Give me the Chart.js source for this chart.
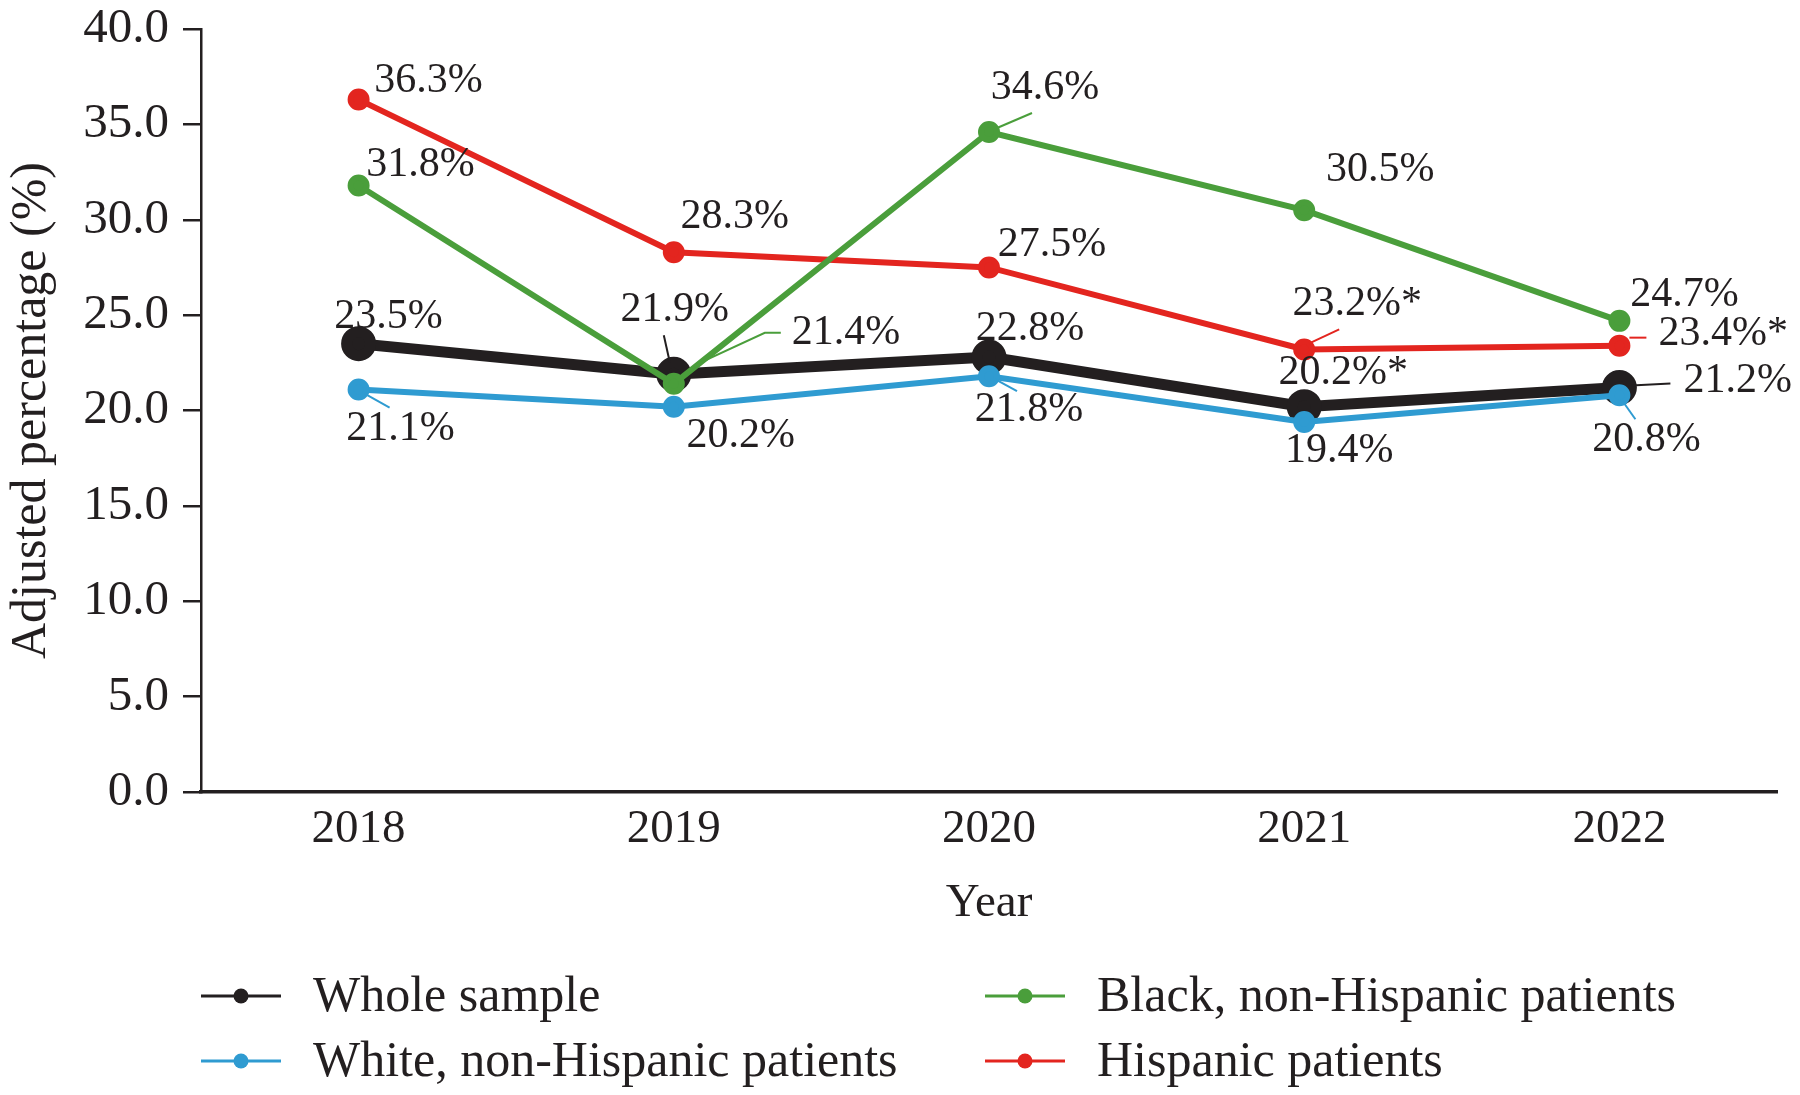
<!DOCTYPE html>
<html>
<head>
<meta charset="utf-8">
<title>Adjusted percentage by year</title>
<style>
  html, body { margin: 0; padding: 0; background: #fff; }
  #wrap { width: 1800px; height: 1095px; }
</style>
</head>
<body>
<div id="wrap"><canvas id="trendChart" width="1800" height="1095"></canvas></div>

<script src="https://cdn.jsdelivr.net/npm/chart.js"></script>
<script>
    // data
    const years = ['2018', '2019', '2020', '2021', '2022'];
    const wholeSample = [23.5, 21.9, 22.8, 20.2, 21.2];
    const whitePatients = [21.1, 20.2, 21.8, 19.4, 20.8];
    const blackPatients = [31.8, 21.4, 34.6, 30.5, 24.7];
    const hispanicPatients = [36.3, 28.3, 27.5, 23.2, 23.4];
    // asterisk marks in the labels
    const wholeStars = [false, false, false, true, false];
    const whiteStars = [false, false, false, false, false];
    const blackStars = [false, false, false, false, false];
    const hispanicStars = [false, false, false, true, true];
    const yTicks = [0, 5, 10, 15, 20, 25, 30, 35, 40];

    const INK = '#231f20';
    const SERIF = '"Liberation Serif", "DejaVu Serif", serif';

    // where each value label sits relative to its point (px), plus optional leader line
    const labelPlacement = {
        whole: [
            { dx: 30, dy: -27 },
            { dx: 1, dy: -64, leader: [[-4, -12], [-10, -39]] },
            { dx: 41, dy: -28 },
            { dx: 39, dy: -34 },
            { dx: 64, dy: -7, align: 'left', leader: [[12, -2], [51, -4]] }
        ],
        white: [
            { dx: 42, dy: 39, leader: [[6, 4], [31, 18]] },
            { dx: 67, dy: 29 },
            { dx: 40, dy: 34, leader: [[6, 3], [28, 15]] },
            { dx: 35, dy: 29 },
            { dx: 27, dy: 45, leader: [[4, 7], [16, 24]] }
        ],
        black: [
            { dx: 62, dy: -20 },
            { dx: 118, dy: -51, align: 'left', leader: [[6, -5], [26, -21], [91, -51], [107, -51]] },
            { dx: 56, dy: -44, leader: [[8, -4], [43, -19]] },
            { dx: 76, dy: -40 },
            { dx: 65, dy: -26 }
        ],
        hispanic: [
            { dx: 70, dy: -19 },
            { dx: 61, dy: -35 },
            { dx: 63, dy: -22 },
            { dx: 53, dy: -45, leader: [[5, -6], [35, -20]] },
            { dx: 39, dy: -12, align: 'left', leader: [[10, -8], [27, -8]] }
        ]
    };

    const valueLabels = {
        id: 'valueLabels',
        afterDatasetsDraw(chart) {
            const ctx = chart.ctx;
            ctx.save();
            ctx.font = '42px ' + SERIF;
            ctx.textBaseline = 'middle';
            chart.data.datasets.forEach((ds, i) => {
                const meta = chart.getDatasetMeta(i);
                meta.data.forEach((pt, j) => {
                    const place = labelPlacement[ds.key][j];
                    if (place.leader) {
                        ctx.strokeStyle = ds.borderColor;
                        ctx.lineWidth = 2;
                        ctx.beginPath();
                        place.leader.forEach((p, k) => {
                            if (k === 0) ctx.moveTo(pt.x + p[0], pt.y + p[1]);
                            else ctx.lineTo(pt.x + p[0], pt.y + p[1]);
                        });
                        ctx.stroke();
                    }
                    const text = ds.data[j].toFixed(1) + '%' + (ds.stars[j] ? '*' : '');
                    ctx.fillStyle = INK;
                    ctx.textAlign = place.align || 'center';
                    ctx.fillText(text, pt.x + place.dx, pt.y + place.dy);
                });
            });
            ctx.restore();
        }
    };

    // two-column legend under the axis title
    const legendSlots = [[201, 996], [201, 1061], [985, 996], [985, 1061]];
    const bottomLegend = {
        id: 'bottomLegend',
        afterDraw(chart) {
            const ctx = chart.ctx;
            ctx.save();
            ctx.font = '50px ' + SERIF;
            ctx.textBaseline = 'middle';
            ctx.textAlign = 'left';
            chart.data.datasets.forEach((ds, i) => {
                const [x, y] = legendSlots[i];
                ctx.strokeStyle = ds.borderColor;
                ctx.lineWidth = 3;
                ctx.beginPath();
                ctx.moveTo(x, y);
                ctx.lineTo(x + 80, y);
                ctx.stroke();
                ctx.fillStyle = ds.borderColor;
                ctx.beginPath();
                ctx.arc(x + 40, y, 7.5, 0, Math.PI * 2);
                ctx.fill();
                ctx.fillStyle = INK;
                ctx.fillText(ds.label, x + 112, y + 2);
            });
            ctx.restore();
        }
    };

    const ctx = document.getElementById('trendChart').getContext('2d');
    const trendChart = new Chart(ctx, {
        type: 'line',
        data: {
            labels: years,
            datasets: [
                {
                    key: 'whole', label: 'Whole sample', data: wholeSample, stars: wholeStars,
                    borderColor: INK, backgroundColor: INK,
                    borderWidth: 11, pointRadius: 12, order: 3
                },
                {
                    key: 'white', label: 'White, non-Hispanic patients', data: whitePatients, stars: whiteStars,
                    borderColor: '#2f9bd1', backgroundColor: '#2f9bd1',
                    borderWidth: 6, pointRadius: 8, order: 2
                },
                {
                    key: 'black', label: 'Black, non-Hispanic patients', data: blackPatients, stars: blackStars,
                    borderColor: '#4a9e3b', backgroundColor: '#4a9e3b',
                    borderWidth: 6, pointRadius: 8, order: 0
                },
                {
                    key: 'hispanic', label: 'Hispanic patients', data: hispanicPatients, stars: hispanicStars,
                    borderColor: '#e3251f', backgroundColor: '#e3251f',
                    borderWidth: 6, pointRadius: 8, order: 1
                }
            ]
        },
        options: {
            responsive: false,
            animation: false,
            devicePixelRatio: 1,
            layout: { padding: { top: 29, right: 15, bottom: 160, left: 0 } },
            elements: {
                line: { tension: 0 },
                point: { borderWidth: 0, hoverRadius: 8 }
            },
            plugins: {
                legend: { display: false },
                tooltip: { enabled: false }
            },
            scales: {
                x: {
                    offset: true,
                    grid: { drawOnChartArea: false, drawTicks: false },
                    border: { color: INK, width: 3.5 },
                    ticks: { color: INK, font: { family: SERIF, size: 47 }, padding: 9 },
                    title: {
                        display: true, text: 'Year', color: INK,
                        font: { family: SERIF, size: 47 }, padding: { top: 0, bottom: 3 }
                    },
                    afterFit: (scale) => {
                        scale.height = 143;
                        scale.paddingLeft = 0;
                        scale.paddingRight = 0;
                    }
                },
                y: {
                    min: 0,
                    max: 40,
                    afterBuildTicks: (scale) => { scale.ticks = yTicks.map(v => ({ value: v })); },
                    ticks: {
                        color: INK, font: { family: SERIF, size: 49 }, padding: 14,
                        callback: (v) => Number(v).toFixed(1)
                    },
                    grid: { drawOnChartArea: false, drawTicks: true, tickLength: 18, color: INK, lineWidth: 2.5 },
                    border: { color: INK, width: 2.5 },
                    title: {
                        display: true, text: 'Adjusted percentage (%)', color: INK,
                        font: { family: SERIF, size: 50 }, padding: { top: 2, bottom: 0 }
                    },
                    afterFit: (scale) => {
                        scale.width = 201;
                        scale.paddingTop = 0;
                        scale.paddingBottom = 0;
                    }
                }
            }
        },
        plugins: [valueLabels, bottomLegend]
    });
</script>
</body>
</html>
